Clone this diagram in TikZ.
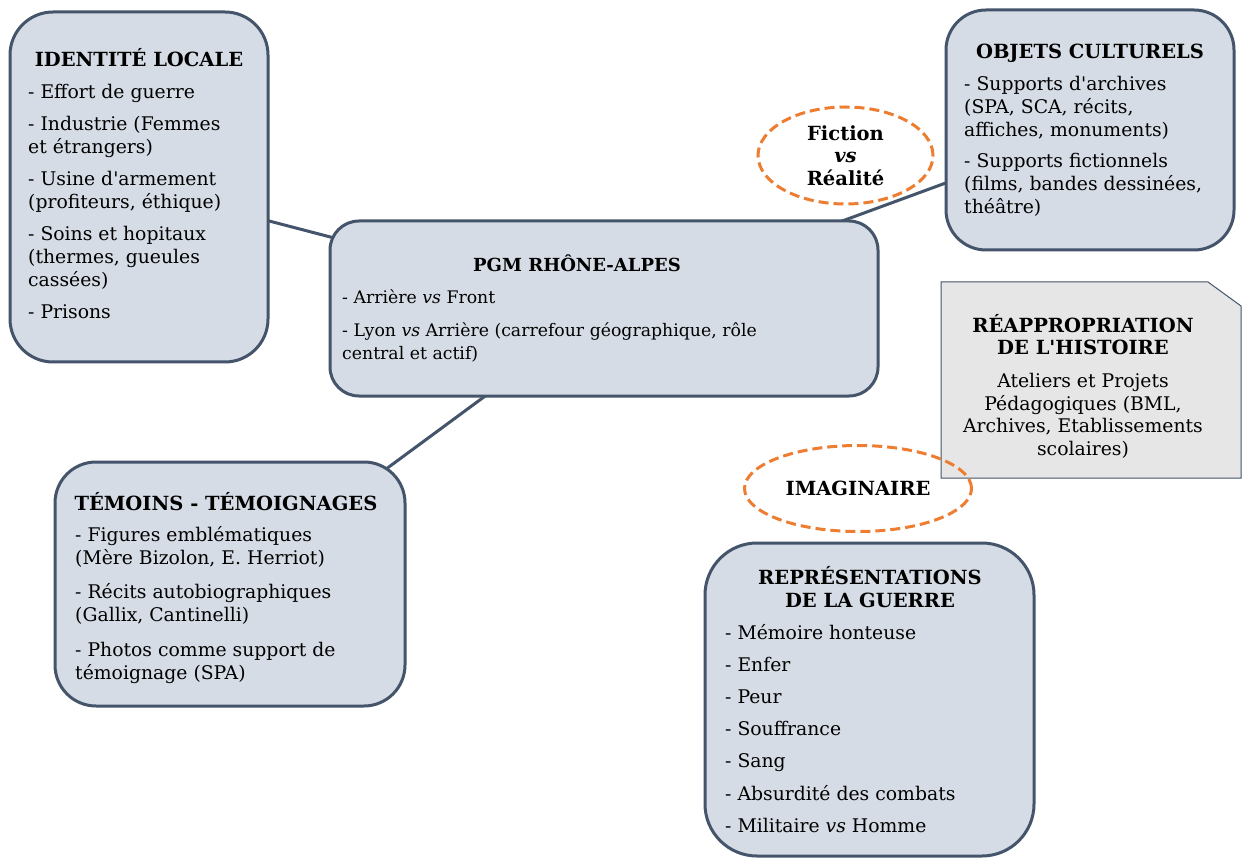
\documentclass[tikz,border=0pt]{standalone}
\usepackage{fontspec}
\setmainfont{DejaVu Serif}[Ligatures=TeXOff]
\usetikzlibrary{shapes.geometric,backgrounds}
\definecolor{bord}{HTML}{44546A}
\definecolor{boxfill}{HTML}{D6DCE5}
\definecolor{orng}{HTML}{ED7D31}
\definecolor{grayfill}{HTML}{E7E6E6}
\newcommand{\mylbox}[1]{\begin{minipage}[t]{700pt}\raggedright #1\end{minipage}}
\newcommand{\myctbox}[1]{\begin{minipage}[t]{400pt}\centering #1\end{minipage}}
\begin{document}
\begin{tikzpicture}[x=1pt,y=-1pt,
  rbox/.style={draw=bord, line width=3pt, fill=boxfill, inner sep=0pt, outer sep=0pt},
  ttl/.style={font=\bfseries\fontsize{19.5}{23}\selectfont, inner sep=0pt, anchor=base},
  bdy/.style={font=\fontsize{18.8}{23}\selectfont, inner sep=0pt, anchor=base west},
  bdyc/.style={font=\fontsize{18.8}{22.5}\selectfont, inner sep=0pt, anchor=base},
  oval/.style={ellipse, draw=orng, line width=3pt, dash pattern=on 10pt off 5pt, inner sep=0pt, font=\bfseries\fontsize{19.5}{22.5}\selectfont, align=center},
  conn/.style={draw=bord, line width=3pt}]
\useasboundingbox (0,0) rectangle (1242,858);

% boxes
\node[rbox, rounded corners=43pt, minimum width=258pt, minimum height=350pt] (id) at (139,187) {};
\node[rbox, rounded corners=29pt, minimum width=548pt, minimum height=175pt] (pgm) at (604,308.5) {};
\node[rbox, rounded corners=40pt, minimum width=288pt, minimum height=240pt] (obj) at (1090,130) {};
\node[rbox, rounded corners=41pt, minimum width=350pt, minimum height=244pt] (tem) at (230,584) {};
\node[rbox, rounded corners=52pt, minimum width=329pt, minimum height=313pt] (rep) at (869.5,699.5) {};

% connectors behind boxes
\begin{pgfonlayer}{background}
\fill[white] (0,0) rectangle (1242,858);
\draw[conn] (id.center) -- (pgm.center);
\draw[conn] (pgm.center) -- (obj.center);
\draw[conn] (pgm.center) -- (tem.center);
\end{pgfonlayer}

% reappropriation (snipped corner)
\draw[fill=grayfill, draw=bord, line width=1pt] (941,282) -- (1208,282) -- (1241,306) -- (1241,478) -- (941,478) -- cycle;

% ovals
\node[oval, minimum width=175pt, minimum height=97pt] (fic) at (845.5,155.5) {Fiction\\\textit{vs}\\Réalité};
\node[oval, minimum width=227pt, minimum height=86pt] (ima) at (858,488.5) {IMAGINAIRE};

% texts
\node[ttl] (idt) at (139,67) {IDENTITÉ LOCALE};
\node[bdy] (idb) at (28,99) {\mylbox{- Effort de guerre\\[9pt]- Industrie (Femmes\\et étrangers)\\[9pt]- Usine d'armement\\(profiteurs, éthique)\\[9pt]- Soins et hopitaux\\(thermes, gueules\\cassées)\\[9pt]- Prisons}};

\node[ttl, font=\bfseries\fontsize{18}{23}\selectfont] (pgmt) at (577,272) {PGM RHÔNE-ALPES};
\node[bdy, font=\fontsize{17.3}{23}\selectfont] (pgmb) at (342,304) {\mylbox{- Arrière \textit{vs} Front\\[10pt]- Lyon \textit{vs} Arrière (carrefour géographique, rôle\\central et actif)}};

\node[ttl] (objt) at (1090,59) {OBJETS CULTURELS};
\node[bdy] (objb) at (964,91) {\mylbox{- Supports d'archives\\(SPA, SCA, récits,\\affiches, monuments)\\[8pt]- Supports fictionnels\\(films, bandes dessinées,\\théâtre)}};

\node[ttl] (reat) at (1083,333) {\myctbox{RÉAPPROPRIATION\\[-1pt]DE L'HISTOIRE}};
\node[bdyc] (reab) at (1083,388) {\myctbox{Ateliers et Projets\\Pédagogiques (BML,\\Archives, Etablissements\\scolaires)}};

\node[ttl] (temt) at (226,510) {TÉMOINS - TÉMOIGNAGES};
\node[bdy] (temb) at (75,541) {\mylbox{- Figures emblématiques\\(Mère Bizolon, E. Herriot)\\[11pt]- Récits autobiographiques\\(Gallix, Cantinelli)\\[12pt]- Photos comme support de\\témoignage (SPA)}};

\node[ttl] (rept) at (870,584) {\myctbox{REPRÉSENTATIONS\\DE LA GUERRE}};
\node[bdy] (repb) at (725,639) {\mylbox{- Mémoire honteuse\\[9pt]- Enfer\\[9pt]- Peur\\[9pt]- Souffrance\\[9pt]- Sang\\[10pt]- Absurdité des combats\\[9pt]- Militaire \textit{vs} Homme}};
\end{tikzpicture}
\end{document}
